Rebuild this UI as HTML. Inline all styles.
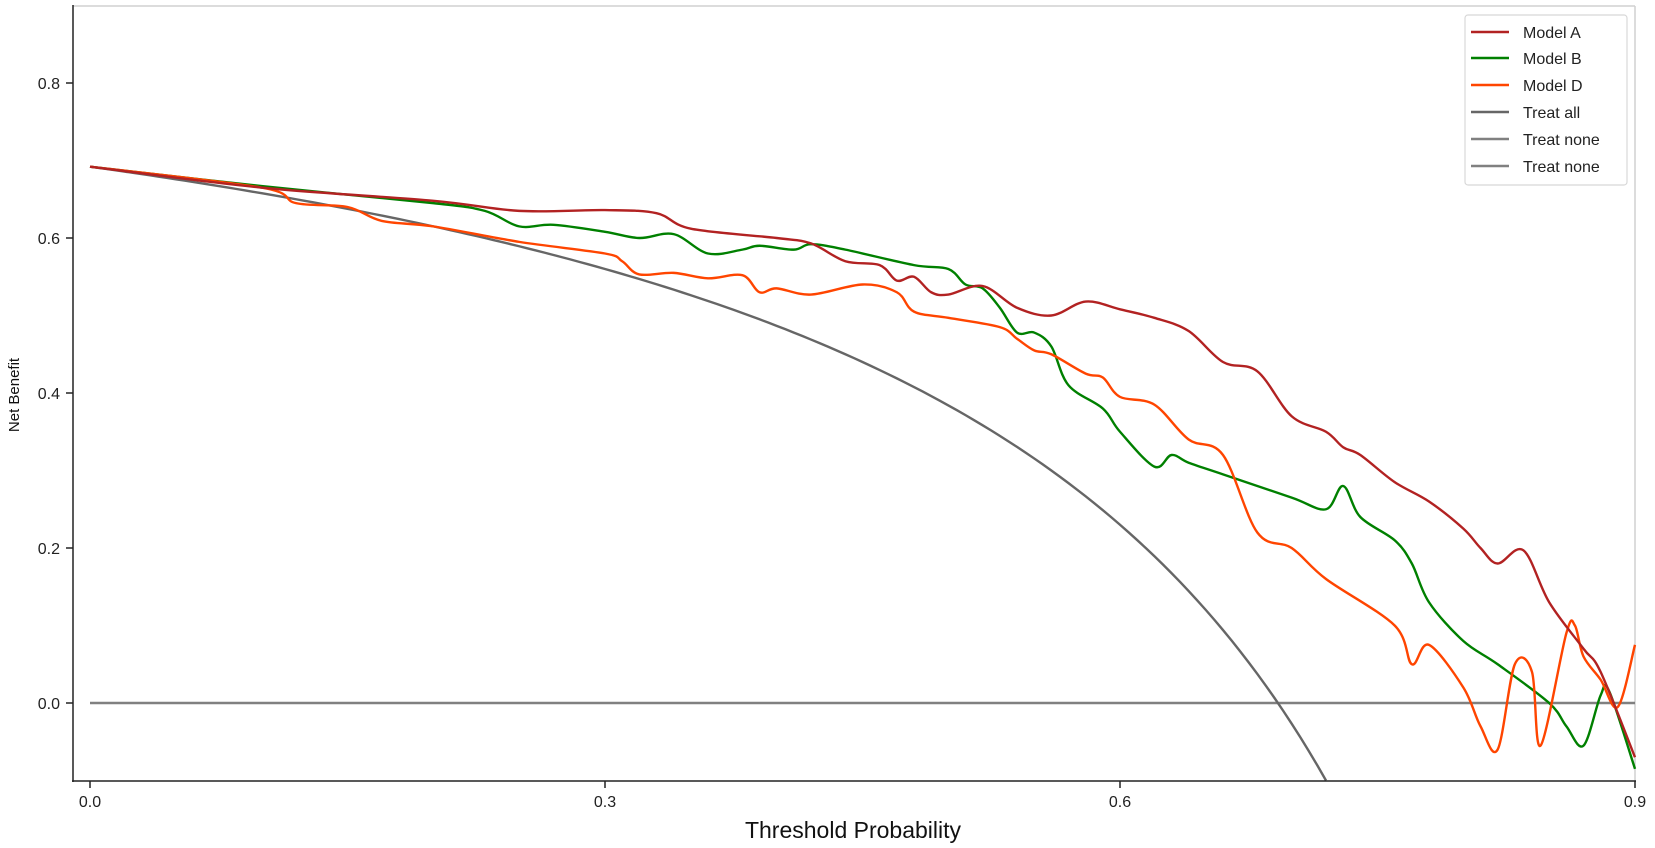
<!DOCTYPE html>
<html><head><meta charset="utf-8"><style>
html,body{margin:0;padding:0;background:#fff;}
svg{display:block;font-family:"Liberation Sans",sans-serif;}
</style></head><body>
<svg id="c" width="1655" height="848" viewBox="0 0 1655 848" xmlns="http://www.w3.org/2000/svg">
<rect width="1655" height="848" fill="#fff"/>
<line x1="73" y1="6" x2="1635" y2="6" stroke="#d0d0d0" stroke-width="1.5"/>
<line x1="1635" y1="6" x2="1635" y2="781" stroke="#d0d0d0" stroke-width="1.5"/>
<g id="series" fill="none" stroke-width="2.4" stroke-linejoin="round"></g>
<line x1="73" y1="5" x2="73" y2="782" stroke="#222" stroke-width="1.5"/>
<line x1="72" y1="781" x2="1636" y2="781" stroke="#222" stroke-width="1.5"/>
<g stroke="#222" stroke-width="1.5">
<line x1="66" y1="83" x2="73" y2="83"/><line x1="66" y1="238" x2="73" y2="238"/>
<line x1="66" y1="393" x2="73" y2="393"/><line x1="66" y1="548" x2="73" y2="548"/>
<line x1="66" y1="703" x2="73" y2="703"/>
<line x1="90" y1="781" x2="90" y2="788"/><line x1="605" y1="781" x2="605" y2="788"/>
<line x1="1120" y1="781" x2="1120" y2="788"/><line x1="1635" y1="781" x2="1635" y2="788"/>
</g>
<g font-size="16" fill="#222" text-anchor="end">
<text x="60" y="89">0.8</text><text x="60" y="244">0.6</text><text x="60" y="399">0.4</text>
<text x="60" y="554">0.2</text><text x="60" y="709">0.0</text>
</g>
<g font-size="16" fill="#222" text-anchor="middle">
<text x="90" y="807">0.0</text><text x="605" y="807">0.3</text><text x="1120" y="807">0.6</text><text x="1635" y="807">0.9</text>
</g>
<text x="853" y="838" font-size="23" text-anchor="middle" fill="#111">Threshold Probability</text>
<text transform="translate(19,395) rotate(-90)" font-size="15" text-anchor="middle" fill="#111">Net Benefit</text>
<rect x="1465" y="15" width="162" height="170" rx="3" fill="#fff" stroke="#d8d8d8" stroke-width="1.2"/>
<g stroke-width="2.4">
<line x1="1471" y1="32" x2="1509" y2="32" stroke="#b22222"/>
<line x1="1471" y1="58" x2="1509" y2="58" stroke="#008000"/>
<line x1="1471" y1="85" x2="1509" y2="85" stroke="#ff4500"/>
<line x1="1471" y1="112" x2="1509" y2="112" stroke="#666"/>
<line x1="1471" y1="139" x2="1509" y2="139" stroke="#808080"/>
<line x1="1471" y1="166" x2="1509" y2="166" stroke="#808080"/>
</g>
<g font-size="16" fill="#222">
<text x="1523" y="38">Model A</text><text x="1523" y="64">Model B</text><text x="1523" y="91">Model D</text>
<text x="1523" y="118">Treat all</text><text x="1523" y="145">Treat none</text><text x="1523" y="172">Treat none</text>
</g>
</svg>
<script>
var X=function(t){return 90+t*1716.67},Y=function(v){return 703-v*775};
function smooth(pts){var p=pts.map(function(a){return [X(a[0]),Y(a[1])]});var d="M"+p[0][0]+","+p[0][1];
for(var i=0;i<p.length-1;i++){var p0=p[i-1]||p[i],p1=p[i],p2=p[i+1],p3=p[i+2]||p2;
d+=" C"+(p1[0]+(p2[0]-p0[0])/6)+","+(p1[1]+(p2[1]-p0[1])/6)+" "+(p2[0]-(p3[0]-p1[0])/6)+","+(p2[1]-(p3[1]-p1[1])/6)+" "+p2[0]+","+p2[1];}return d;}
var A=[[0,.692],[.1,.665],[.2,.648],[.25,.635],[.3,.636],[.33,.632],[.35,.612],[.4,.6],[.42,.593],[.44,.57],[.46,.565],[.47,.545],[.48,.55],[.49,.53],[.5,.527],[.52,.538],[.54,.51],[.56,.50],[.58,.518],[.6,.508],[.62,.497],[.64,.48],[.66,.44],[.68,.428],[.7,.37],[.72,.35],[.73,.33],[.74,.32],[.76,.285],[.78,.26],[.8,.225],[.81,.20],[.82,.18],[.835,.197],[.85,.13],[.87,.07],[.88,.04],[.9,-.07]];
var B=[[0,.692],[.1,.667],[.2,.645],[.23,.635],[.25,.615],[.27,.617],[.3,.608],[.32,.60],[.34,.605],[.36,.58],[.38,.585],[.39,.59],[.41,.585],[.42,.592],[.44,.585],[.48,.565],[.5,.56],[.51,.54],[.52,.535],[.53,.51],[.54,.478],[.55,.478],[.56,.46],[.57,.41],[.59,.38],[.6,.35],[.62,.305],[.63,.32],[.64,.31],[.66,.295],[.7,.265],[.72,.25],[.73,.28],[.74,.24],[.76,.21],[.77,.18],[.78,.13],[.8,.08],[.82,.05],[.85,0],[.86,-.03],[.87,-.055],[.88,.01],[.885,.015],[.9,-.085]];
var D=[[0,.692],[.1,.665],[.12,.645],[.15,.64],[.17,.622],[.2,.615],[.25,.595],[.3,.58],[.31,.57],[.32,.553],[.34,.555],[.36,.548],[.38,.552],[.39,.53],[.4,.535],[.42,.527],[.45,.54],[.47,.53],[.48,.505],[.5,.497],[.53,.485],[.54,.47],[.55,.455],[.56,.45],[.58,.425],[.59,.42],[.6,.395],[.62,.385],[.64,.34],[.66,.32],[.68,.22],[.7,.20],[.72,.16],[.76,.1],[.77,.05],[.78,.075],[.8,.02],[.81,-.03],[.82,-.06],[.83,.05],[.84,.04],[.845,-.055],[.86,.09],[.865,.10],[.87,.06],[.88,.03],[.89,-.005],[.9,.075]];
var T=[];for(var t=0;t<=0.7215;t+=0.005){T.push([t,.692-.308*t/(1-t)]);}
var g=document.getElementById("series"),ns="http://www.w3.org/2000/svg";
function add(d,c){var e=document.createElementNS(ns,"path");e.setAttribute("d",d);e.setAttribute("stroke",c);g.appendChild(e);}
add("M"+X(0)+","+Y(0)+" L"+X(.9)+","+Y(0),"#808080");
add("M"+T.map(function(a){return X(a[0])+","+Y(a[1])}).join(" L"),"#666");
add(smooth(B),"#008000");add(smooth(D),"#ff4500");add(smooth(A),"#b22222");
</script>
</body></html>
